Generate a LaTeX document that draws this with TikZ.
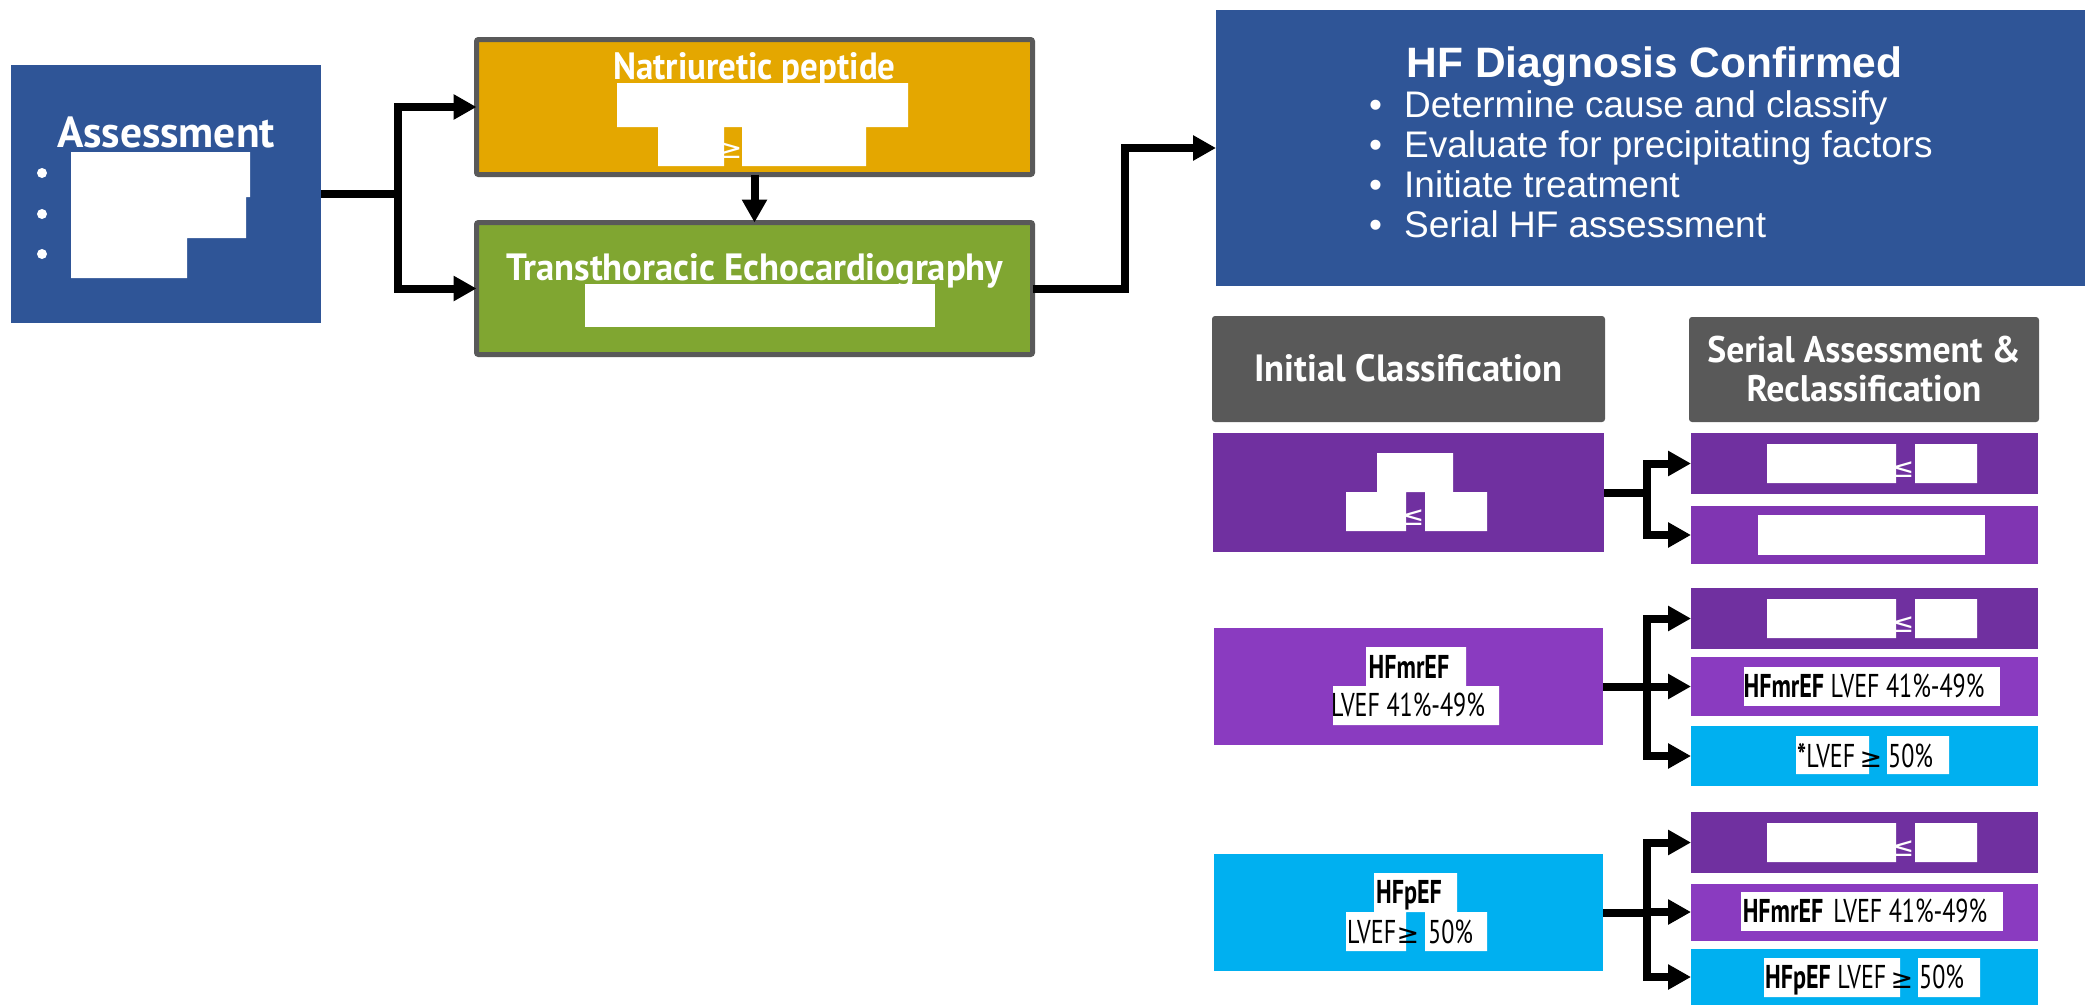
\documentclass[tikz,border=0pt]{standalone}
\usepackage{fontspec}
\setmainfont{PT Sans}
\newfontfamily\arialfont{Liberation Sans}
\newfontfamily\symfont{DejaVu Sans}
\newfontfamily\semicond[FakeStretch=0.92]{PT Sans}
\newfontfamily\semiwide[FakeStretch=0.965]{PT Sans}
\newfontfamily\cond[FakeStretch=0.73]{PT Sans}
\usetikzlibrary{arrows.meta}

\definecolor{hfblue}{RGB}{47,85,151}
\definecolor{npgold}{RGB}{228,167,0}
\definecolor{echogreen}{RGB}{128,166,49}
\definecolor{boxgray}{RGB}{89,89,89}
\definecolor{refpurple}{RGB}{112,48,160}
\definecolor{midpurple}{RGB}{138,59,192}
\definecolor{lightpurple}{RGB}{128,53,178}
\definecolor{pefcyan}{RGB}{0,176,240}

\begin{document}
\begin{tikzpicture}[x=1pt, y=-1pt,
    box/.style={rectangle, inner sep=0pt, outer sep=0pt},
    stepbox/.style={box, draw=boxgray, line width=5pt, rounded corners=2pt},
    headbox/.style={box, fill=boxgray, rounded corners=3pt},
    rowbox/.style={box, minimum width=347pt},
    arrow/.style={-{Triangle[length=23pt, width=24pt]}, line width=8pt},
    redact/.style={fill=white},
    whitehead/.style={inner sep=0pt, anchor=base, text=white, font=\semiwide\bfseries\fontsize{38}{40}\selectfont},
    lbl/.style={inner sep=0pt, anchor=base, font=\cond\fontsize{33}{35}\selectfont},
    sym/.style={inner sep=0pt, anchor=base, font=\symfont\fontsize{27}{30}\selectfont},
    dxitem/.style={inner sep=0pt, anchor=base west, text=white, font=\arialfont\fontsize{37}{40}\selectfont}
]
    \useasboundingbox (0,0) rectangle (2085,1005);

    % left part
    \node[box, fill=hfblue, minimum width=310pt, minimum height=258pt] (assess) at (166,194) {};
    \node[inner sep=0pt, anchor=base, text=white, font=\bfseries\fontsize{43.5}{46}\selectfont] (assessT) at (166,147) {Assessment};
    \fill[white] (42,173) circle (5pt) (42,214) circle (5pt) (42,254) circle (5pt);
    \fill[redact] (71,152) rectangle (250,197) (71,197) rectangle (246,238) (71,238) rectangle (187,278);

    \node[stepbox, fill=npgold, minimum width=556pt, minimum height=135pt] (natri) at (754.5,107) {};
    \node[whitehead, font=\semicond\bfseries\fontsize{38}{40}\selectfont] (natriT) at (754.5,79) {Natriuretic peptide};
    \node[sym, text=white] (natriS) at (731,158) {≥};
    \fill[redact] (617,83) rectangle (908,127) (658,127) rectangle (724,166) (742,127) rectangle (866,166);

    \node[stepbox, fill=echogreen, minimum width=556pt, minimum height=132pt] (echo) at (754.5,288.5) {};
    \node[whitehead] (echoT) at (755,280) {Transthoracic Echocardiography};
    \fill[redact] (585,284) rectangle (935,327);

    \node[box, fill=hfblue, minimum width=869pt, minimum height=276pt] (dx) at (1650.5,148) {};
    \node[inner sep=0pt, anchor=base, text=white, font=\arialfont\bfseries\fontsize{42.5}{46}\selectfont] (dxT) at (1654.5,77) {HF Diagnosis Confirmed};
    \node[dxitem] (dx1) at (1369,117) {\makebox[35pt][l]{\textbullet}Determine cause and classify};
    \node[dxitem] (dx2) at (1369,157) {\makebox[35pt][l]{\textbullet}Evaluate for precipitating factors};
    \node[dxitem] (dx3) at (1369,197) {\makebox[35pt][l]{\textbullet}Initiate treatment};
    \node[dxitem] (dx4) at (1369,237) {\makebox[35pt][l]{\textbullet}Serial HF assessment};

    \draw[arrow] (assess.east) -- ++(77,0) |- (natri.west);
    \draw[arrow] (assess.east) -- ++(77,0) |- (echo.west);
    \draw[arrow] (natri) -- (echo);
    \draw[arrow] (echo.east) -- ++(92,0) |- (dx.west);

    % headers
    \node[headbox, minimum width=393pt, minimum height=106pt] (initH) at (1408.5,369) {};
    \node[whitehead] (initT) at (1408.5,381) {Initial Classification};
    \node[headbox, minimum width=350pt, minimum height=105pt] (serialH) at (1864,369.5) {};
    \node[whitehead, font=\semiwide\bfseries\fontsize{37}{40}\selectfont] (serialT1) at (1864,362) {Serial Assessment \&};
    \node[whitehead, font=\semiwide\bfseries\fontsize{37}{40}\selectfont] (serialT2) at (1864,401) {Reclassification};

    % HFrEF row
    \node[box, fill=refpurple, minimum width=391pt, minimum height=119pt] (ref0) at (1408.5,492.5) {};
    \node[sym, text=white] (ref0S) at (1413,525) {≤};
    \fill[redact] (1377,453) rectangle (1453,492) (1346,492) rectangle (1406,531) (1425,492) rectangle (1487,531);

    \node[rowbox, fill=refpurple, minimum height=61pt] (ref1) at (1864.5,463.5) {};
    \node[sym, text=white] (ref1S) at (1903,477) {≤};
    \fill[redact] (1767,444) rectangle (1896,483) (1915,444) rectangle (1977,483);
    \node[rowbox, fill=lightpurple, minimum height=58pt] (ref2) at (1864.5,535) {};
    \fill[redact] (1758,515) rectangle (1985,555);

    \draw[arrow] (ref0.east) -- ++(43,0) |- (ref1.west);
    \draw[arrow] (ref0.east) -- ++(43,0) |- (ref2.west);

    % HFmrEF row
    \node[box, fill=midpurple, minimum width=389pt, minimum height=117pt] (mr0) at (1408.5,686.5) {};
    \fill[redact] (1366,647) rectangle (1466,686) (1333,686) rectangle (1499,725);
    \node[lbl, font=\cond\bfseries\fontsize{33}{35}\selectfont] (mr0T1) at (1409,678) {HFmrEF};
    \node[lbl] (mr0T2) at (1408,716) {LVEF 41\%-49\%};

    \node[rowbox, fill=refpurple, minimum height=61pt] (mr1) at (1864.5,618.5) {};
    \node[sym, text=white] (mr1S) at (1903,632) {≤};
    \fill[redact] (1767,599) rectangle (1896,638) (1915,599) rectangle (1977,638);
    \node[rowbox, fill=midpurple, minimum height=59pt] (mr2) at (1864.5,686.5) {};
    \fill[redact] (1744,667) rectangle (2000,706);
    \node[lbl] (mr2T) at (1864,697) {{\bfseries HFmrEF} LVEF 41\%-49\%};
    \node[rowbox, fill=pefcyan, minimum height=60pt] (mr3) at (1864.5,756) {};
    \fill[redact] (1796,736) rectangle (1869,774) (1887,736) rectangle (1949,774);
    \node[lbl, anchor=base west] (mr3T1) at (1797,767) {{\bfseries *}LVEF};
    \node[sym] (mr3S) at (1871,767) {≥};
    \node[lbl, anchor=base west] (mr3T2) at (1888,767) {50\%};

    \draw[arrow] (mr0.east) -- ++(44,0) |- (mr1.west);
    \draw[arrow] (mr0.east) -- ++(44,0) |- (mr2.west);
    \draw[arrow] (mr0.east) -- ++(44,0) |- (mr3.west);

    % HFpEF row
    \node[box, fill=pefcyan, minimum width=389pt, minimum height=117pt] (pef0) at (1408.5,912.5) {};
    \fill[redact] (1374,873) rectangle (1457,912) (1346,912) rectangle (1406,951) (1425,912) rectangle (1487,951);
    \node[lbl, font=\cond\bfseries\fontsize{33}{35}\selectfont] (pef0T1) at (1409,903) {HFpEF};
    \node[lbl, anchor=base west] (pef0T2) at (1347,943) {LVEF};
    \node[sym] (pef0S) at (1408,943) {≥};
    \node[lbl, anchor=base west] (pef0T3) at (1428,943) {50\%};

    \node[rowbox, fill=refpurple, minimum height=61pt] (pef1) at (1864.5,842.5) {};
    \node[sym, text=white] (pef1S) at (1903,856) {≤};
    \fill[redact] (1767,823) rectangle (1896,862) (1915,823) rectangle (1977,862);
    \node[rowbox, fill=midpurple, minimum height=57pt] (pef2) at (1864.5,912) {};
    \fill[redact] (1741,892) rectangle (2003,931);
    \node[lbl] (pef2T) at (1865,922) {{\bfseries HFmrEF}\hspace{10pt}LVEF 41\%-49\%};
    \node[rowbox, fill=pefcyan, minimum height=56pt] (pef3) at (1864.5,977) {};
    \fill[redact] (1764,958) rectangle (1900,997) (1918,958) rectangle (1980,997);
    \node[lbl, anchor=base west] (pef3T1) at (1765,988) {{\bfseries HFpEF} LVEF};
    \node[sym] (pef3S) at (1902,988) {≥};
    \node[lbl, anchor=base west] (pef3T2) at (1919,988) {50\%};

    \draw[arrow] (pef0.east) -- ++(44,0) |- (pef1.west);
    \draw[arrow] (pef0.east) -- ++(44,0) |- (pef2.west);
    \draw[arrow] (pef0.east) -- ++(44,0) |- (pef3.west);

\end{tikzpicture}
\end{document}
